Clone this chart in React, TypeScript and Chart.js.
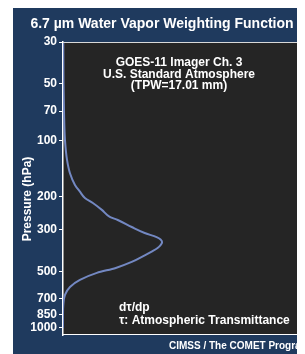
import React, { useEffect, useRef } from "react";
import { Chart, registerables } from "chart.js";

Chart.register(...registerables);

const pressureLevels = [30, 50, 70, 100, 127, 150, 173, 188, 203, 216, 235, 256, 266, 290, 312, 328, 338, 350, 362, 375, 392, 408, 445, 479, 509, 555, 605, 667, 754, 850, 1000];
const weighting = [0.3, 0.5, 1, 2, 4, 7, 12, 17, 22, 30, 39, 47, 55, 69, 82, 94, 98, 99.5, 98, 95, 89, 83, 69, 53, 34, 17, 7, 2, 0.3, 0, 0];
const yTicks = [30, 50, 70, 100, 200, 300, 500, 700, 850, 1000];

const titleText = "6.7 \u00b5m Water Vapor Weighting Function";
const yTitle = "Pressure (hPa)";
const infoLines = ["GOES-11 Imager Ch. 3", "U.S. Standard Atmosphere", "(TPW=17.01 mm)"];
const legendLines = ["d\u03c4/dp", "\u03c4: Atmospheric Transmittance"];
const footer = "CIMSS / The COMET Program";

const NAVY = "#1f3a5e";
const PLOT_BG = "#252525";
const FONT = "'Liberation Sans', Arial, sans-serif";

const decorPlugin = {
  id: "decor",
  beforeDraw(chart: any) {
    const { ctx, chartArea: a } = chart;
    ctx.save();
    ctx.fillStyle = PLOT_BG;
    ctx.fillRect(a.left, a.top, a.right - a.left, a.bottom - a.top);
    ctx.restore();
  },
  afterDraw(chart: any) {
    const { ctx, chartArea: a } = chart;
    const ys = chart.scales.y;
    ctx.save();
    ctx.strokeStyle = "#d8d8d8";
    ctx.lineWidth = 1;
    ctx.beginPath();
    ctx.moveTo(a.left, a.top + 0.5);
    ctx.lineTo(a.right - 0.5, a.top + 0.5);
    ctx.lineTo(a.right - 0.5, a.bottom);
    ctx.stroke();
    ctx.strokeStyle = "#ffffff";
    ctx.beginPath();
    ctx.moveTo(a.left, a.bottom - 0.5);
    ctx.lineTo(a.right, a.bottom - 0.5);
    ctx.stroke();
    ctx.strokeStyle = "#d8d8d8";
    for (const t of yTicks) {
      const py = Math.round(ys.getPixelForValue(t)) + 0.5;
      ctx.beginPath();
      ctx.moveTo(a.right - 4, py);
      ctx.lineTo(a.right, py);
      ctx.stroke();
    }
    ctx.fillStyle = "#ffffff";
    ctx.font = `bold 14px ${FONT}`;
    ctx.textAlign = "center";
    ctx.textBaseline = "middle";
    ctx.fillText(titleText, 149, 16);
    ctx.save();
    ctx.translate(15, 191);
    ctx.rotate(-Math.PI / 2);
    ctx.font = `bold 12px ${FONT}`;
    ctx.fillText(yTitle, 0, 0);
    ctx.restore();
    ctx.font = `bold 12px ${FONT}`;
    infoLines.forEach((l, i) => ctx.fillText(l, 166, 55 + i * 11.5));
    ctx.textAlign = "left";
    ctx.font = `bold 12px ${FONT}`;
    legendLines.forEach((l, i) => ctx.fillText(l, 106, 300 + i * 13));
    ctx.font = `bold 10px ${FONT}`;
    ctx.fillText(footer, 156, 338);
    ctx.restore();
  },
};

export default function App() {
  const ref = useRef<HTMLCanvasElement>(null);
  useEffect(() => {
    if (!ref.current) return;
    const chart = new Chart(ref.current, {
      type: "line",
      data: {
        datasets: [
          {
            data: pressureLevels.map((p, i) => ({ x: weighting[i], y: p })),
            borderColor: "#7388c2",
            borderWidth: 2,
            pointRadius: 0,
            cubicInterpolationMode: "monotone",
            fill: false,
          },
        ],
      },
      options: {
        animation: false,
        responsive: true,
        maintainAspectRatio: false,
        indexAxis: "y",
        layout: { padding: { top: 34, right: 3, bottom: 19, left: 0 } },
        plugins: { legend: { display: false }, tooltip: { enabled: false }, title: { display: false } },
        scales: {
          x: { type: "linear", min: 0, max: 240, display: false },
          y: {
            type: "logarithmic",
            reverse: true,
            min: 30,
            max: 1090,
            afterBuildTicks: (s: any) => {
              s.ticks = yTicks.map((v) => ({ value: v }));
            },
            afterFit: (s: any) => {
              s.width = 50;
            },
            ticks: {
              color: "#ffffff",
              font: { family: FONT, size: 12, weight: "bold" },
              padding: 2,
              autoSkip: false,
              callback: (v: any) => String(v),
            },
            grid: { drawOnChartArea: false, drawTicks: true, tickLength: 4, color: "#ffffff" },
            border: { color: "#ffffff", width: 1.5 },
          },
        },
      },
      plugins: [decorPlugin],
    });
    return () => chart.destroy();
  }, []);
  return (
    <div style={{ marginLeft: 5, width: 292, height: 346, background: NAVY, position: "relative" }}>
      <canvas ref={ref} />
    </div>
  );
}
